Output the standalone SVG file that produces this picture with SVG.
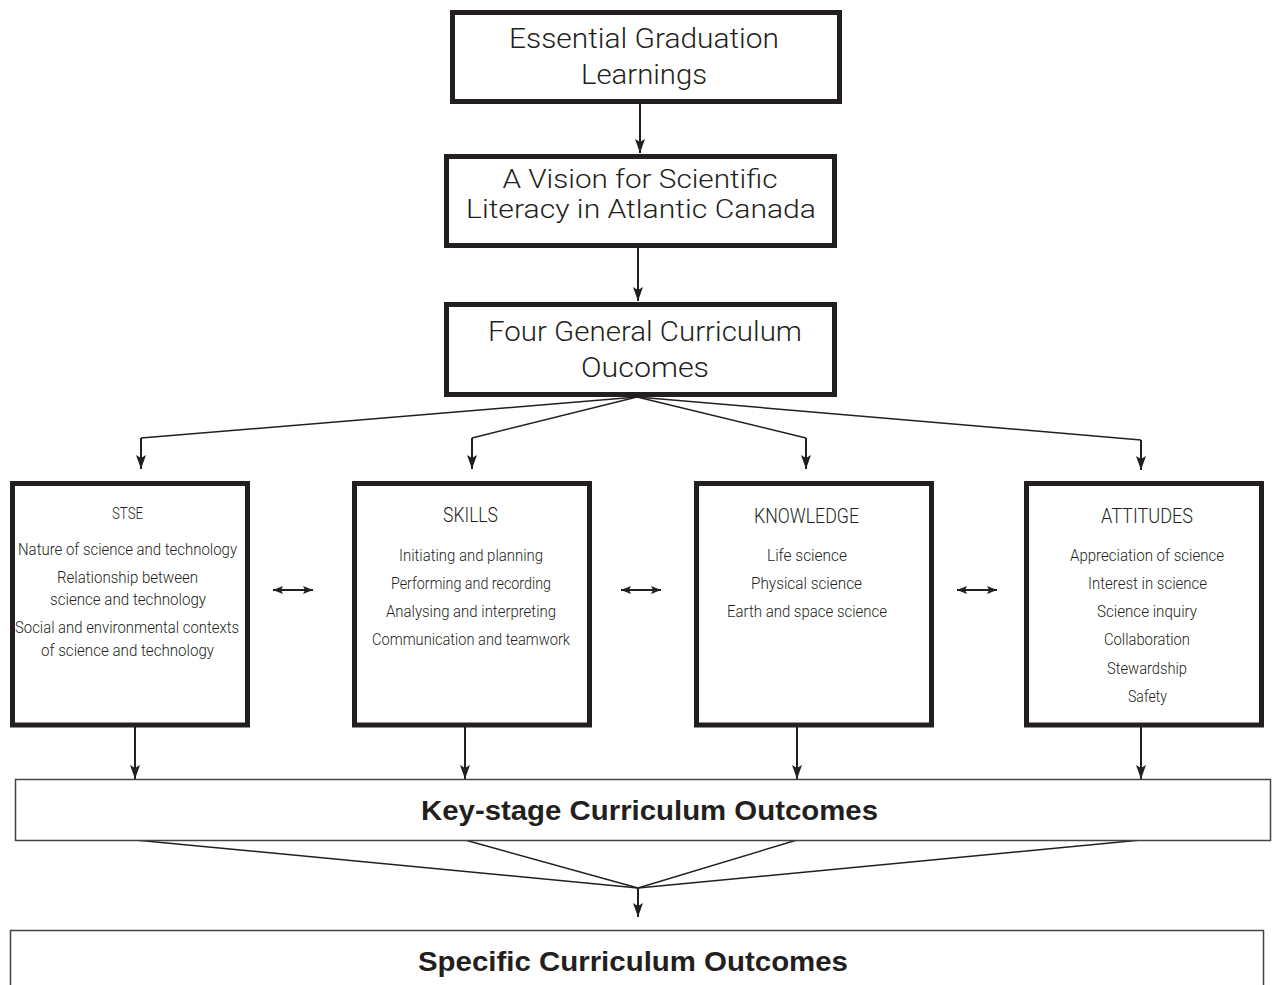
<svg xmlns="http://www.w3.org/2000/svg" width="1274" height="985" viewBox="0 0 1274 985">
<defs>
<marker id="ah" viewBox="0 0 14 10" refX="14" refY="5" markerWidth="14" markerHeight="10" markerUnits="userSpaceOnUse" orient="auto-start-reverse">
<path d="M0,0 L14,5 L0,10 L3,5 z" fill="#231f20"/>
</marker>
<marker id="ahs" viewBox="0 0 10 8" refX="10" refY="4" markerWidth="10" markerHeight="8" markerUnits="userSpaceOnUse" orient="auto-start-reverse">
<path d="M0,0 L10,4 L0,8 L2,4 z" fill="#231f20"/>
</marker>
</defs>
<style>
.thick{fill:#fff;stroke:#231f20;stroke-width:5}
.thin{fill:#fff;stroke:#444;stroke-width:1.5}
.big{font-family:Roboto,"Liberation Sans",sans-serif;font-weight:300;font-size:28px;fill:#231f20;text-anchor:middle}
.mid{font-family:Roboto,"Liberation Sans",sans-serif;font-weight:300;font-size:26px;fill:#231f20;text-anchor:middle}
.hd{font-family:Roboto,"Liberation Sans",sans-serif;font-weight:300;font-size:20px;fill:#231f20;text-anchor:middle}
.it{font-family:Roboto,"Liberation Sans",sans-serif;font-weight:300;font-size:17px;fill:#231f20;text-anchor:middle}
.bold{font-family:"Liberation Sans",Arial,sans-serif;font-weight:bold;font-size:27px;fill:#231f20;text-anchor:middle}
.ln{fill:none;stroke:#231f20;stroke-width:1.5}
.va{fill:none;stroke:#231f20;stroke-width:2;marker-end:url(#ah)}
.da{fill:none;stroke:#231f20;stroke-width:2;marker-start:url(#ahs);marker-end:url(#ahs)}
</style>
<g id="connectors">
<line class="va" x1="640" y1="104" x2="640" y2="153"/>
<line class="va" x1="638" y1="248" x2="638" y2="301"/>
<polyline class="ln" points="637,397 141,438"/>
<line class="va" x1="141" y1="438" x2="141" y2="469"/>
<polyline class="ln" points="637,397 472,438"/>
<line class="va" x1="472" y1="438" x2="472" y2="469"/>
<polyline class="ln" points="637,397 806,438"/>
<line class="va" x1="806" y1="438" x2="806" y2="469"/>
<polyline class="ln" points="637,397 1141,440"/>
<line class="va" x1="1141" y1="440" x2="1141" y2="470"/>
<line class="da" x1="273" y1="590" x2="313" y2="590"/>
<line class="da" x1="621" y1="590" x2="661" y2="590"/>
<line class="da" x1="957" y1="590" x2="997" y2="590"/>
<line class="va" x1="135" y1="727" x2="135" y2="779"/>
<line class="va" x1="465" y1="727" x2="465" y2="779"/>
<line class="va" x1="797" y1="727" x2="797" y2="779"/>
<line class="va" x1="1141" y1="727" x2="1141" y2="779"/>
<line class="ln" x1="135" y1="840" x2="638" y2="888"/>
<line class="ln" x1="465" y1="840" x2="638" y2="888"/>
<line class="ln" x1="797" y1="840" x2="638" y2="888"/>
<line class="ln" x1="1141" y1="840" x2="638" y2="888"/>
<line class="va" x1="638" y1="888" x2="638" y2="917"/>
</g>
<g id="egl">
<rect class="thick" x="452.5" y="12.5" width="387" height="89"/>
<text class="big" x="644" y="48" textLength="270" lengthAdjust="spacingAndGlyphs">Essential Graduation</text>
<text class="big" x="644" y="84" textLength="126" lengthAdjust="spacingAndGlyphs">Learnings</text>
</g>
<g id="vision">
<rect class="thick" x="446.5" y="156.5" width="388" height="89"/>
<text class="mid" x="640" y="188" textLength="275" lengthAdjust="spacingAndGlyphs">A Vision for Scientific</text>
<text class="mid" x="641" y="218" textLength="350" lengthAdjust="spacingAndGlyphs">Literacy in Atlantic Canada</text>
</g>
<g id="gco">
<rect class="thick" x="446.5" y="304.5" width="388" height="90"/>
<text class="big" x="645" y="341" textLength="314" lengthAdjust="spacingAndGlyphs">Four General Curriculum</text>
<text class="big" x="645" y="377" textLength="128" lengthAdjust="spacingAndGlyphs">Oucomes</text>
</g>
<g id="stse">
<rect class="thick" x="12.5" y="483.5" width="235" height="241.5"/>
<text class="it" x="127.5" y="519" textLength="31" lengthAdjust="spacingAndGlyphs">STSE</text>
<text class="it" x="127.5" y="555" textLength="219" lengthAdjust="spacingAndGlyphs">Nature of science and technology</text>
<text class="it" x="127.5" y="583" textLength="141" lengthAdjust="spacingAndGlyphs">Relationship between</text>
<text class="it" x="128" y="605" textLength="156" lengthAdjust="spacingAndGlyphs">science and technology</text>
<text class="it" x="127" y="633" textLength="224" lengthAdjust="spacingAndGlyphs">Social and environmental contexts</text>
<text class="it" x="127.5" y="656" textLength="173" lengthAdjust="spacingAndGlyphs">of science and technology</text>
</g>
<g id="skills">
<rect class="thick" x="354.5" y="483.5" width="235" height="241.5"/>
<text class="hd" x="470.5" y="522" textLength="55" lengthAdjust="spacingAndGlyphs">SKILLS</text>
<text class="it" x="471" y="561" textLength="144" lengthAdjust="spacingAndGlyphs">Initiating and planning</text>
<text class="it" x="471" y="589" textLength="160" lengthAdjust="spacingAndGlyphs">Performing and recording</text>
<text class="it" x="471" y="617" textLength="170" lengthAdjust="spacingAndGlyphs">Analysing and interpreting</text>
<text class="it" x="471" y="645" textLength="198" lengthAdjust="spacingAndGlyphs">Communication and teamwork</text>
</g>
<g id="knowledge">
<rect class="thick" x="696.5" y="483.5" width="235" height="241.5"/>
<text class="hd" x="806.5" y="523" textLength="105" lengthAdjust="spacingAndGlyphs">KNOWLEDGE</text>
<text class="it" x="807" y="561" textLength="80" lengthAdjust="spacingAndGlyphs">Life science</text>
<text class="it" x="806.5" y="589" textLength="111" lengthAdjust="spacingAndGlyphs">Physical science</text>
<text class="it" x="807" y="617" textLength="160" lengthAdjust="spacingAndGlyphs">Earth and space science</text>
</g>
<g id="attitudes">
<rect class="thick" x="1026.5" y="483.5" width="235" height="241.5"/>
<text class="hd" x="1147" y="523" textLength="92" lengthAdjust="spacingAndGlyphs">ATTITUDES</text>
<text class="it" x="1147" y="561" textLength="154" lengthAdjust="spacingAndGlyphs">Appreciation of science</text>
<text class="it" x="1147.5" y="589" textLength="119" lengthAdjust="spacingAndGlyphs">Interest in science</text>
<text class="it" x="1147" y="617" textLength="100" lengthAdjust="spacingAndGlyphs">Science inquiry</text>
<text class="it" x="1147" y="645" textLength="86" lengthAdjust="spacingAndGlyphs">Collaboration</text>
<text class="it" x="1147" y="674" textLength="80" lengthAdjust="spacingAndGlyphs">Stewardship</text>
<text class="it" x="1147.5" y="702" textLength="39" lengthAdjust="spacingAndGlyphs">Safety</text>
</g>
<g id="keystage">
<rect class="thin" x="15.5" y="779.5" width="1255" height="61"/>
<text class="bold" x="649.5" y="820" textLength="457" lengthAdjust="spacingAndGlyphs">Key-stage Curriculum Outcomes</text>
</g>
<g id="specific">
<rect class="thin" x="10.5" y="930.5" width="1253" height="70"/>
<text class="bold" x="633" y="971" textLength="430" lengthAdjust="spacingAndGlyphs">Specific Curriculum Outcomes</text>
</g>
</svg>
